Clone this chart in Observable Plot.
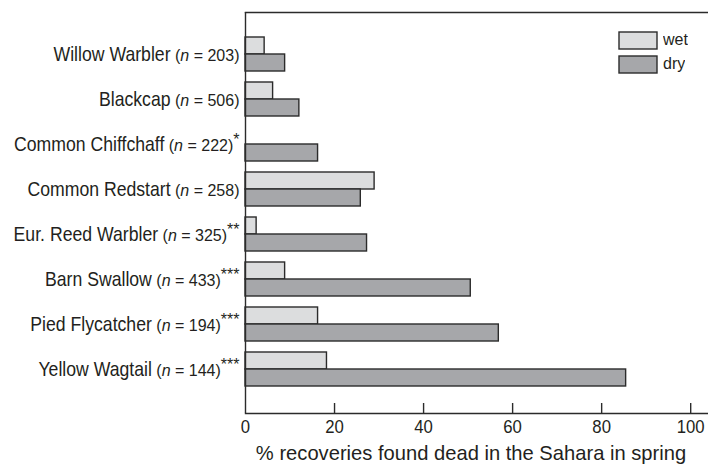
<!DOCTYPE html>
<html><head><meta charset="utf-8">
<script src="https://cdn.jsdelivr.net/npm/d3@7"></script>
<script src="https://cdn.jsdelivr.net/npm/@observablehq/plot@0.6"></script>
<style>
html,body{margin:0;padding:0;background:#fff;}
#wrap{position:relative;width:708px;height:464px;}
#legend{position:absolute;left:619px;top:31px;}
#legend svg rect{stroke:#2b2b2b;stroke-width:1.4px;}
#legend [class$="-swatch"]{padding-bottom:6px !important;margin:0 !important;}
#legend svg{margin-right:6px !important;}
</style></head><body><div id="wrap"><div id="legend"></div></div>
<script>
const species = ["Willow Warbler","Blackcap","Common Chiffchaff","Common Redstart","Eur. Reed Warbler","Barn Swallow","Pied Flycatcher","Yellow Wagtail"];
const sampleSizes = [203,506,222,258,325,433,194,144];
const significance = ["","","*","","**","***","***","***"];
const conditions = ["wet","dry"];
const wet = [4.3,6.2,0,29.0,2.5,8.9,16.3,18.3];
const dry = [8.9,12.1,16.3,25.9,27.3,50.6,56.9,85.5];
const xTicks = [0,20,40,60,80,100];
const xLabel = "% recoveries found dead in the Sahara in spring";
const colors = ["#dcddde","#a6a7aa"];

const font = "'Liberation Sans',Arial,Helvetica,sans-serif";

const rows = [];
species.forEach((s,i)=>{rows.push({species:s,condition:"wet",value:wet[i]});rows.push({species:s,condition:"dry",value:dry[i]});});

const ink = "#2b2b2b";
const chart = Plot.plot({
  width:708, height:464, marginLeft:245, marginRight:0, marginTop:12, marginBottom:51,
  style:{fontFamily:font, color:"#231f20", background:"#fff"},
  x:{domain:[0,104]},
  y:{domain:species, paddingInner:0.25, paddingOuter:0.544, align:0.48},
  color:{domain:conditions, range:colors},
  marks:[
    Plot.barX(rows.filter(d=>d.condition==="wet"), {x:"value", y:"species", fill:"condition", stroke:ink, strokeWidth:1.4, insetBottom:17}),
    Plot.barX(rows.filter(d=>d.condition==="dry"), {x:"value", y:"species", fill:"condition", stroke:ink, strokeWidth:1.4, insetTop:17}),
    Plot.frame({anchor:"top", stroke:ink, strokeWidth:1.4}),
    Plot.frame({anchor:"bottom", stroke:ink, strokeWidth:1.4}),
    Plot.ruleX([0], {stroke:ink, strokeWidth:1.4}),
    Plot.ruleX(xTicks.slice(1), {stroke:ink, strokeWidth:1.4, insetTop:391}),
    Plot.axisX({ticks:xTicks, tickSize:0, tickPadding:6, fontSize:19, label:xLabel, labelAnchor:"center", labelOffset:46, labelArrow:"none"}),
    Plot.axisY({tickSize:0, tickPadding:6, fontSize:21, label:null})
  ]
});
document.getElementById("wrap").prepend(chart);
const svg = chart.tagName.toLowerCase()==="svg" ? chart : chart.querySelector("svg");
const NS="http://www.w3.org/2000/svg";
// emulate the condensed typeface of the original by squeezing glyphs horizontally
const squeezeEl = (t,f)=>{
  const len=t.getComputedTextLength(); if(!len) return;
  t.setAttribute("textLength",(len*f).toFixed(1)); t.setAttribute("lengthAdjust","spacingAndGlyphs");
};
svg.querySelectorAll('g[aria-label="y-axis tick label"] text').forEach(t=>{
  const i = species.indexOf(t.textContent.trim());
  if(i<0) return;
  t.textContent="";
  const add=(txt,attrs)=>{const ts=document.createElementNS(NS,"tspan");ts.textContent=txt;for(const k in attrs)ts.setAttribute(k,attrs[k]);t.appendChild(ts);return ts;};
  const nm = add(species[i],{});
  add(" (",{"font-size":16});
  add("n",{"font-size":16,"font-style":"italic"});
  add(" = "+sampleSizes[i]+")",{"font-size":16});
  if(significance[i]) add(significance[i],{"font-size":16,"dy":"-0.4em"});
  squeezeEl(nm,0.84);
});
svg.querySelectorAll('g[aria-label="x-axis tick label"] text').forEach(t=>squeezeEl(t,0.88));
svg.querySelectorAll('g[aria-label="x-axis label"] text').forEach(t=>{t.setAttribute("font-size",21);t.setAttribute("dx",-6);squeezeEl(t,0.96);});

const leg = Plot.legend({color:{domain:conditions, range:colors}, legend:"swatches", columns:1, swatchWidth:38, swatchHeight:17, style:{fontFamily:font, fontSize:"16px", color:"#231f20"}});
document.getElementById("legend").appendChild(leg);
</script></body></html>
